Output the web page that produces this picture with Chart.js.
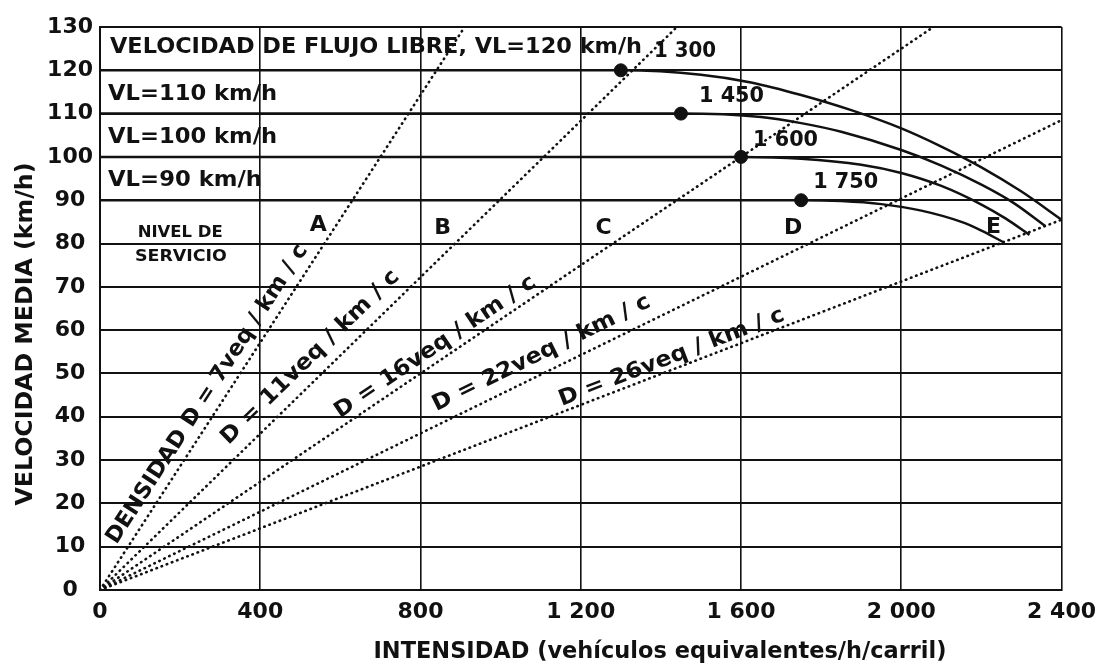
<!DOCTYPE html>
<html>
<head>
<meta charset="utf-8">
<script src="https://cdn.jsdelivr.net/npm/chart.js@4.4.0/dist/chart.umd.min.js"></script>
<style>
  html, body { margin: 0; padding: 0; background: #fff; }
  #wrap { width: 1105px; height: 672px; }
</style>
</head>
<body>
<div id="wrap"><canvas id="chart"></canvas></div>
<script>
// speed-flow curves (intensity veh eq/h/lane, mean speed km/h)
const flow120 = [0, 1300, 1500, 1625, 1750, 1875, 2000, 2100, 2200, 2300, 2400];
const speed120 = [120, 120, 119, 117.2, 114.3, 110.8, 106.6, 102.4, 97.6, 92, 85.5];
const flow110 = [0, 1450, 1650, 1750, 1850, 2000, 2100, 2200, 2280, 2360];
const speed110 = [110, 110, 109.2, 107.8, 105.8, 101.6, 98, 93.6, 89.4, 84];
const flow100 = [0, 1600, 1750, 1900, 2000, 2100, 2200, 2260, 2320];
const speed100 = [100, 100, 99.6, 98.2, 96.3, 93.3, 89, 85.8, 82];
const flow90 = [0, 1750, 1850, 1950, 2050, 2150, 2200, 2255];
const speed90 = [90, 90, 89.8, 89.1, 87.6, 85, 83, 80.3];

// breakpoints (dots) and their labels
const breakFlow = [1300, 1450, 1600, 1750];
const breakSpeed = [120, 110, 100, 90];
const breakLabels = ['1 300', '1 450', '1 600', '1 750'];

// density lines from the origin to where they leave the plot
const densityEndFlow = [910, 1440, 2080, 2400, 2400];
const densityEndSpeed = [130, 130, 130, 108.5, 85.5];
const densityLabels = ['DENSIDAD D = 7veq / km / c', 'D = 11veq / km / c', 'D = 16veq / km / c',
  'D = 22veq / km / c', 'D = 26veq / km / c'];

const vlLabels = ['VELOCIDAD DE FLUJO LIBRE, VL=120 km/h', 'VL=110 km/h', 'VL=100 km/h', 'VL=90 km/h'];
const losLabels = ['A', 'B', 'C', 'D', 'E'];
const xTickLabels = ['0', '400', '800', '1 200', '1 600', '2 000', '2 400'];

const xTitle = 'INTENSIDAD (vehículos equivalentes/h/carril)';
const yTitle = 'VELOCIDAD MEDIA (km/h)';

// where the texts sit (data coords) and how wide they are (px)
const layout = {
  vl: [[25, 125.4, 532], [20, 114.4, 169], [20, 104.6, 169], [20, 94.7, 154]],
  brk: [[1383, 124.3, 62], [1495, 113.9, 65], [1630, 103.9, 65], [1780, 94.2, 65]],
  los: [[545, 84.3], [855, 83.6], [1257, 83.6], [1730, 83.6], [2230, 83.8]],
  dens: [[268, 45.2, 352], [525, 53.7, 240], [837, 56.1, 238], [1102, 54.6, 240], [1427, 53.7, 240]],
  nivel: [[200, 82.4, 85], [202, 76.9, 92]]
};

const ink = '#111';
const toPts = (xs, ys) => xs.map((v, i) => ({ x: v, y: ys[i] }));

const curve = (xs, ys) => ({
  data: toPts(xs, ys), showLine: true, borderColor: ink, borderWidth: 2.5,
  pointRadius: 0, cubicInterpolationMode: 'monotone'
});

const densitySets = densityEndFlow.map((fx, i) => ({
  data: [{ x: 0, y: 0 }, { x: fx, y: densityEndSpeed[i] }], showLine: true,
  borderColor: ink, borderWidth: 2.6, borderDash: [0.5, 5], borderCapStyle: 'round', pointRadius: 0
}));

function fillFit(ctx, text, x, y, width, align) {
  const w = ctx.measureText(text).width;
  ctx.save();
  ctx.translate(x, y);
  if (width) ctx.scale(width / w, 1);
  ctx.textAlign = align || 'left';
  ctx.fillText(text, 0, 0);
  ctx.restore();
}

const textPlugin = {
  id: 'texts',
  afterDatasetsDraw(chart) {
    const { ctx } = chart;
    const xs = chart.scales.x, ys = chart.scales.y;
    const px = v => xs.getPixelForValue(v), py = v => ys.getPixelForValue(v);
    ctx.save();
    ctx.fillStyle = ink;
    ctx.textBaseline = 'middle';

    ctx.font = 'bold 22px "DejaVu Sans"';
    vlLabels.forEach((t, i) => {
      const [x, y, w] = layout.vl[i];
      fillFit(ctx, t, px(x), py(y), w);
    });
    breakLabels.forEach((t, i) => {
      const [x, y, w] = layout.brk[i];
      fillFit(ctx, t, px(x), py(y), w);
    });
    losLabels.forEach((t, i) => {
      const [x, y] = layout.los[i];
      fillFit(ctx, t, px(x), py(y), 0, 'center');
    });

    ctx.font = 'bold 16px "DejaVu Sans"';
    ['NIVEL DE', 'SERVICIO'].forEach((t, i) => {
      const [x, y, w] = layout.nivel[i];
      fillFit(ctx, t, px(x), py(y), w, 'center');
    });

    ctx.font = 'bold 22px "DejaVu Sans"';
    densityLabels.forEach((t, i) => {
      const [x, y, w] = layout.dens[i];
      const ang = Math.atan2(py(densityEndSpeed[i]) - py(0), px(densityEndFlow[i]) - px(0));
      const tw = ctx.measureText(t).width;
      ctx.save();
      ctx.translate(px(x), py(y));
      ctx.rotate(ang);
      ctx.scale(w / tw, 1);
      ctx.textAlign = 'center';
      ctx.fillText(t, 0, 0);
      ctx.restore();
    });

    // axis titles
    ctx.font = 'bold 23px "DejaVu Sans"';
    fillFit(ctx, xTitle, 660, 652, 573, 'center');
    ctx.save();
    ctx.translate(26, 334);
    ctx.rotate(-Math.PI / 2);
    fillFit(ctx, yTitle, 0, 0, 343, 'center');
    ctx.restore();
    ctx.restore();
  }
};

new Chart(document.getElementById('chart'), {
  type: 'scatter',
  data: {
    datasets: [
      { data: toPts(breakFlow, breakSpeed), backgroundColor: ink, borderColor: ink, pointRadius: 6.5 },
      curve(flow120, speed120),
      curve(flow110, speed110),
      curve(flow100, speed100),
      curve(flow90, speed90),
      ...densitySets
    ]
  },
  options: {
    responsive: true,
    maintainAspectRatio: false,
    animation: false,
    layout: { padding: { top: 27, right: 43, bottom: 0, left: 0 } },
    plugins: { legend: { display: false }, tooltip: { enabled: false } },
    scales: {
      x: {
        type: 'linear', min: 0, max: 2400,
        afterFit: s => { s.height = 82; },
        grid: { color: ink, lineWidth: 1.6, drawTicks: false },
        border: { color: ink, width: 2 },
        ticks: {
          stepSize: 400, padding: 9, color: ink,
          font: { family: 'DejaVu Sans', size: 22, weight: 'bold' },
          callback: (v, i) => xTickLabels[i]
        }
      },
      y: {
        type: 'linear', min: 0, max: 130,
        afterFit: s => { s.width = 100; },
        grid: { color: ink, lineWidth: 2, drawTicks: false },
        border: { color: ink, width: 2 },
        ticks: {
          stepSize: 10, padding: 7, color: ink, crossAlign: 'center',
          font: { family: 'DejaVu Sans', size: 22, weight: 'bold' }
        }
      }
    }
  },
  plugins: [textPlugin]
});
</script>
</body>
</html>
